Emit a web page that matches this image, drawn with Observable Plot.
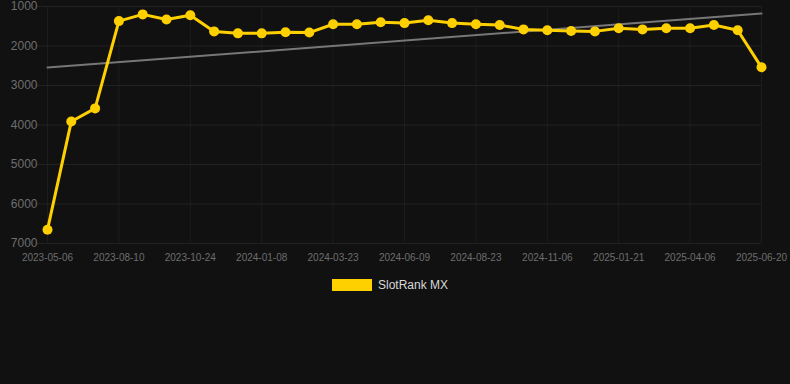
<!DOCTYPE html>
<html>
<head>
<meta charset="utf-8">
<script src="https://cdn.jsdelivr.net/npm/d3@7"></script>
<script src="https://cdn.jsdelivr.net/npm/@observablehq/plot@0.6"></script>
<style>
  html, body { margin: 0; padding: 0; background: #111111; width: 790px; height: 384px; overflow: hidden; }
  #chart svg { display: block; }
  #legend { display: flex; justify-content: center; align-items: center; gap: 6px; margin-top: 10px; padding-right: 10px;
            font-family: "Liberation Sans", Arial, sans-serif; font-size: 12px; color: #d8d8d8; }
  #legend .sw { width: 40px; height: 12px; background: #FFD000; }
</style>
</head>
<body>
<div id="chart"></div>
<div id="legend"><span class="sw"></span><span>SlotRank MX</span></div>
<script>
const tickLabels = ["2023-05-06","2023-08-10","2023-10-24","2024-01-08","2024-03-23","2024-06-09","2024-08-23","2024-11-06","2025-01-21","2025-04-06","2025-06-20"];
const ranks = [6650, 3910, 3580, 1370, 1200, 1330, 1220, 1630, 1680, 1680, 1650, 1660, 1450, 1450, 1400, 1420, 1350, 1420, 1450, 1470, 1580, 1600, 1620, 1630, 1550, 1580, 1550, 1550, 1470, 1600, 2540];
const trendValues = [2545, 1180];
const yTicks = [1000, 2000, 3000, 4000, 5000, 6000, 7000];
const seriesName = "SlotRank MX";

const data = ranks.map((v, i) => ({i, v}));
const last = ranks.length - 1;
const trend = [{i: 0, v: trendValues[0]}, {i: last, v: trendValues[1]}];
const xTicks = tickLabels.map((_, k) => k * 3);

const chart = Plot.plot({
  width: 790,
  height: 268,
  marginLeft: 47,
  marginRight: 29,
  marginTop: 6,
  marginBottom: 25,
  style: {background: "#111111", color: "#666666", fontFamily: "Liberation Sans, Arial, sans-serif", fontSize: "10px"},
  x: {domain: [0, last], label: null},
  y: {domain: [7000, 1000], label: null},
  marks: [
    Plot.gridX(xTicks, {stroke: "#1c1c1c", strokeOpacity: 1}),
    Plot.gridY(yTicks, {stroke: "#222222", strokeOpacity: 1, insetLeft: -10}),
    Plot.axisX(xTicks, {tickSize: 0, tickPadding: 10, tickFormat: i => tickLabels[i / 3], fill: "#6e6e6e", fontSize: 10}),
    Plot.axisY(yTicks, {tickSize: 0, tickPadding: 10, tickFormat: d => String(d), fill: "#6e6e6e", fontSize: 12}),
    Plot.line(trend, {x: "i", y: "v", stroke: "#777777", strokeWidth: 2}),
    Plot.line(data, {x: "i", y: "v", stroke: "#FFD000", strokeWidth: 3}),
    Plot.dot(data, {x: "i", y: "v", r: 5, fill: "#FFD000", stroke: "none"})
  ]
});
document.getElementById("chart").appendChild(chart);
</script>
</body>
</html>
